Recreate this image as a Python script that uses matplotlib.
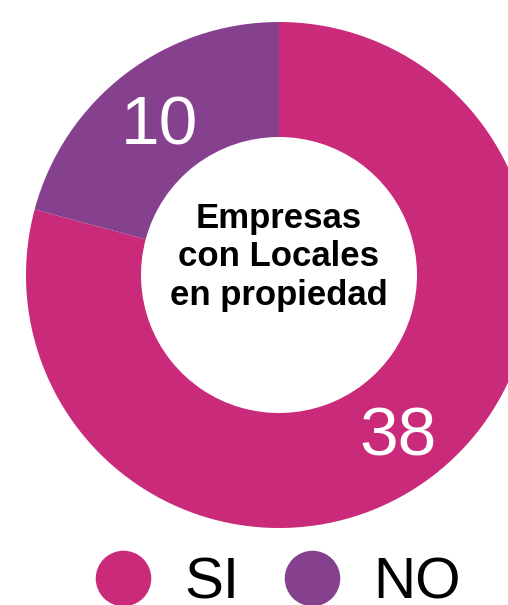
import matplotlib.pyplot as plt
from matplotlib.lines import Line2D

labels = ['SI', 'NO']
values = [38, 10]
colors = ['#C92A79', '#85418E']
center_text = 'Empresas\ncon Locales\nen propiedad'

plt.rcParams['font.family'] = ['Liberation Sans', 'DejaVu Sans']

fig = plt.figure(figsize=(5.08, 6.05), dpi=100)
ax = fig.add_axes([0, 0, 1, 1])

wedges, texts, autotexts = ax.pie(
    values, colors=colors, startangle=90, counterclock=False,
    center=(279, 330), radius=253, frame=True,
    wedgeprops=dict(width=115, linewidth=0),
    autopct=lambda p: '{:.0f}'.format(p * sum(values) / 100),
    pctdistance=0.775,
    textprops=dict(color='white', fontsize=50))
for t in autotexts:
    t.set_va('center_baseline')

ax.set_xlim(0, 508)
ax.set_ylim(0, 605)
ax.set_aspect('equal')
ax.axis('off')

# title inside the hole, sits a bit above the centre
ax.text(279, 348, center_text, ha='center', va='center',
        fontsize=25, fontweight='bold', linespacing=1.2)

handles = [Line2D([], [], marker='o', linestyle='', markersize=40,
                  markerfacecolor=c, markeredgewidth=0) for c in colors]
fig.legend(handles, labels, loc='center left', bbox_to_anchor=(0.185, 0.036),
           ncol=2, frameon=False, fontsize=42, handlelength=1.0,
           handletextpad=0.55, columnspacing=0.75, borderpad=0, borderaxespad=0)

fig.savefig('out.png', dpi=100)
